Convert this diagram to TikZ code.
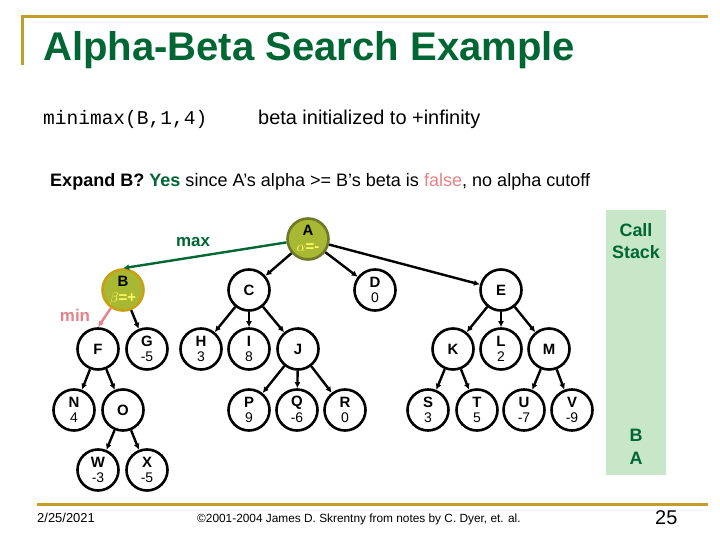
\documentclass[tikz,border=0pt]{standalone}
\usepackage{fontspec}
\setmainfont{Liberation Sans}
\setmonofont{Liberation Mono}
\usetikzlibrary{arrows.meta,calc}
\definecolor{ttl}{RGB}{0,102,51}
\definecolor{gold}{RGB}{196,156,40}
\definecolor{olive}{RGB}{168,184,50}
\definecolor{olived}{RGB}{110,120,40}
\definecolor{goldb}{RGB}{200,160,20}
\definecolor{pinkc}{RGB}{232,128,136}
\definecolor{stackc}{RGB}{200,230,200}
\definecolor{yel}{RGB}{255,255,100}
\begin{document}
\begin{tikzpicture}[x=1bp,y=-1bp,
  nd/.style={circle,draw=black,line width=2.6bp,minimum size=41bp,inner sep=0pt,fill=white},
  ltr/.style={font=\fontsize{15}{15}\selectfont\bfseries,inner sep=0pt},
  val/.style={font=\fontsize{14}{14}\selectfont,inner sep=0pt},
  ab/.style={inner sep=0pt,text=yel,font=\fontsize{15}{15}\selectfont\bfseries},
  edge/.style={line width=2.4bp,-{Latex[length=6bp,width=6bp]}},
  txt/.style={inner sep=0pt,anchor=base west},
]
\useasboundingbox (0,0) rectangle (720,540);
\fill[white] (0,0) rectangle (720,540);
% title frame
\draw[gold,line width=3bp] (22,65) -- (22,17) -- (708,17);
\node[txt,text=ttl,font=\fontsize{40.2}{40}\selectfont\bfseries] (title) at (43,61) {Alpha-Beta Search Example};
\node[txt,font=\fontsize{19.6}{20}\selectfont\ttfamily] (mm) at (43,125) {minimax(B,1,4)};
\node[txt,font=\fontsize{20}{20}\selectfont] (binit) at (258,125) {beta initialized to +infinity};
\node[txt,font=\fontsize{18.1}{18}\selectfont] (exp) at (50,187) {\textbf{Expand B? }\textcolor{ttl}{\textbf{Yes}} since A’s alpha >= B’s beta is \textcolor{pinkc}{false}, no alpha cutoff};
% call stack
\fill[stackc] (606,210) rectangle (666,475);
\node[text=ttl,font=\fontsize{18}{22}\selectfont\bfseries,align=center,inner sep=0pt] (cs) at (636,241) {Call\\Stack};
\node[text=ttl,font=\fontsize{18}{18}\selectfont\bfseries,inner sep=0pt] (sB) at (636,435) {B};
\node[text=ttl,font=\fontsize{18}{18}\selectfont\bfseries,inner sep=0pt] (sA) at (636,458) {A};
% nodes
\node[nd,fill=olive,draw=olived] (A) at (308,239) {};
\node[ltr] at ($(A)+(0,-9)$) {A};
\node[ab] at ($(A)+(0,8.5)$) {$\alpha$=-};
\node[nd,fill=olive,draw=goldb] (B) at (123,290) {};
\node[ltr] at ($(B)+(0,-9)$) {B};
\node[ab] at ($(B)+(0,8.5)$) {$\beta$=+};
\foreach \n/\x/\y in {C/249/290, E/501/290, F/98/349, J/298/349, K/453/349, M/549/349, O/123/410}
  \node[nd,ltr] (\n) at (\x,\y) {\n};
\foreach \n/\x/\y/\v in {D/375/290/0, G/147/349/-5, H/201/349/3, I/249/349/8, L/501/349/2,
   N/74/410/4, P/249/410/9, Q/297/410/-6, R/345/410/0, S/428/410/3, T/477/410/5,
   U/524/410/-7, V/572/410/-9, W/98/470/-3, X/147/470/-5}
{
  \node[nd] (\n) at (\x,\y) {};
  \node[ltr] at ($(\n)+(0,-7.5)$) {\n};
  \node[val] at ($(\n)+(0,8)$) {\v};
}
% edges
\draw[edge,ttl] (A) -- (B.north);
\node[font=\fontsize{17}{17}\selectfont\bfseries,inner sep=0pt,text=ttl] (max) at (193,242) {max};
\draw[edge,pinkc] (B) -- (F.north);
\node[font=\fontsize{17}{17}\selectfont\bfseries,inner sep=0pt,text=pinkc] (min) at (75,315) {min};
\foreach \p/\c in {A/C, A/D, A/E, B/G, C/H, C/I, C/J, E/K, E/L, E/M, F/N, F/O, O/W, O/X,
   J/P, J/Q, J/R, K/S, K/T, M/U, M/V}
  \draw[edge] (\p) -- (\c);
% footer
\draw[gold,line width=3bp] (37,504) -- (708,504);
\node[txt,font=\fontsize{13}{13}\selectfont] (date) at (37,522) {2/25/2021};
\node[txt,font=\fontsize{11.9}{12}\selectfont] (copy) at (197,522) {©2001-2004 James D. Skrentny from notes by C. Dyer, et. al.};
\node[txt,font=\fontsize{20}{20}\selectfont] (pg) at (655,524) {25};
\end{tikzpicture}
\end{document}
